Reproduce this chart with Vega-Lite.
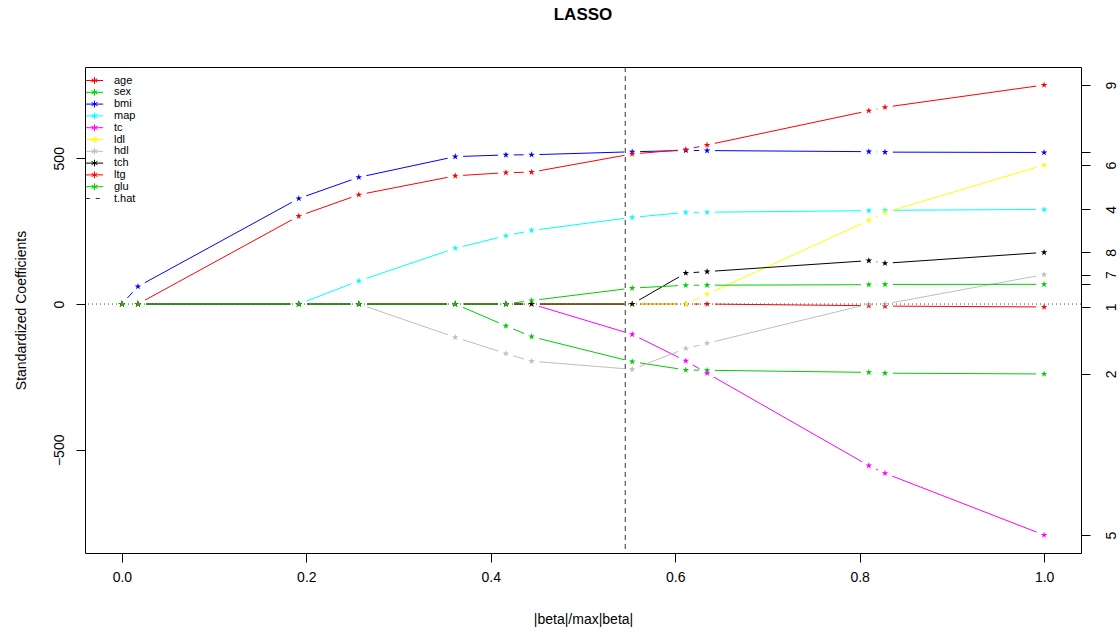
{
  "$schema": "https://vega.github.io/schema/vega-lite/v6.json",
  "autosize": {"type": "none"},
  "padding": {"left": 85, "top": 67, "right": 39, "bottom": 80},
  "width": 996,
  "height": 486,
  "title": {"text": "LASSO", "fontSize": 17, "fontWeight": "bold", "font": "Liberation Sans", "anchor": "middle", "frame": "group", "offset": 43, "color": "black"},
  "config": {
    "font": "Liberation Sans",
    "view": {"stroke": "black", "strokeWidth": 1},
    "axis": {"domain": false, "grid": false, "tickColor": "black", "tickSize": 9, "labelColor": "black", "titleColor": "black", "labelFont": "Liberation Sans", "titleFont": "Liberation Sans", "labelFontSize": 14, "titleFontSize": 14, "titleFontWeight": "normal", "labelOverlap": false, "labelFlush": false}
  },
  "data": {"values": [
    {"s": 0, "v": "age", "b": 0}, {"s": 0, "v": "sex", "b": 0}, {"s": 0, "v": "bmi", "b": 0}, {"s": 0, "v": "map", "b": 0}, {"s": 0, "v": "tc", "b": 0}, {"s": 0, "v": "ldl", "b": 0}, {"s": 0, "v": "hdl", "b": 0}, {"s": 0, "v": "tch", "b": 0}, {"s": 0, "v": "ltg", "b": 0}, {"s": 0, "v": "glu", "b": 0},
    {"s": 0.01738, "v": "age", "b": 0}, {"s": 0.01738, "v": "sex", "b": 0}, {"s": 0.01738, "v": "bmi", "b": 60.12}, {"s": 0.01738, "v": "map", "b": 0}, {"s": 0.01738, "v": "tc", "b": 0}, {"s": 0.01738, "v": "ldl", "b": 0}, {"s": 0.01738, "v": "hdl", "b": 0}, {"s": 0.01738, "v": "tch", "b": 0}, {"s": 0.01738, "v": "ltg", "b": 0}, {"s": 0.01738, "v": "glu", "b": 0},
    {"s": 0.19181, "v": "age", "b": 0}, {"s": 0.19181, "v": "sex", "b": 0}, {"s": 0.19181, "v": "bmi", "b": 361.89}, {"s": 0.19181, "v": "map", "b": 0}, {"s": 0.19181, "v": "tc", "b": 0}, {"s": 0.19181, "v": "ldl", "b": 0}, {"s": 0.19181, "v": "hdl", "b": 0}, {"s": 0.19181, "v": "tch", "b": 0}, {"s": 0.19181, "v": "ltg", "b": 301.78}, {"s": 0.19181, "v": "glu", "b": 0},
    {"s": 0.25691, "v": "age", "b": 0}, {"s": 0.25691, "v": "sex", "b": 0}, {"s": 0.25691, "v": "bmi", "b": 434.76}, {"s": 0.25691, "v": "map", "b": 79.24}, {"s": 0.25691, "v": "tc", "b": 0}, {"s": 0.25691, "v": "ldl", "b": 0}, {"s": 0.25691, "v": "hdl", "b": 0}, {"s": 0.25691, "v": "tch", "b": 0}, {"s": 0.25691, "v": "ltg", "b": 374.92}, {"s": 0.25691, "v": "glu", "b": 0},
    {"s": 0.36147, "v": "age", "b": 0}, {"s": 0.36147, "v": "sex", "b": 0}, {"s": 0.36147, "v": "bmi", "b": 505.66}, {"s": 0.36147, "v": "map", "b": 191.27}, {"s": 0.36147, "v": "tc", "b": 0}, {"s": 0.36147, "v": "ldl", "b": 0}, {"s": 0.36147, "v": "hdl", "b": -114.1}, {"s": 0.36147, "v": "tch", "b": 0}, {"s": 0.36147, "v": "ltg", "b": 439.66}, {"s": 0.36147, "v": "glu", "b": 0},
    {"s": 0.41642, "v": "age", "b": 0}, {"s": 0.41642, "v": "sex", "b": -74.92}, {"s": 0.41642, "v": "bmi", "b": 511.35}, {"s": 0.41642, "v": "map", "b": 234.15}, {"s": 0.41642, "v": "tc", "b": 0}, {"s": 0.41642, "v": "ldl", "b": 0}, {"s": 0.41642, "v": "hdl", "b": -169.71}, {"s": 0.41642, "v": "tch", "b": 0}, {"s": 0.41642, "v": "ltg", "b": 450.67}, {"s": 0.41642, "v": "glu", "b": 0},
    {"s": 0.44424, "v": "age", "b": 0}, {"s": 0.44424, "v": "sex", "b": -111.98}, {"s": 0.44424, "v": "bmi", "b": 512.04}, {"s": 0.44424, "v": "map", "b": 252.53}, {"s": 0.44424, "v": "tc", "b": 0}, {"s": 0.44424, "v": "ldl", "b": 0}, {"s": 0.44424, "v": "hdl", "b": -196.05}, {"s": 0.44424, "v": "tch", "b": 0}, {"s": 0.44424, "v": "ltg", "b": 452.39}, {"s": 0.44424, "v": "glu", "b": 12.08},
    {"s": 0.55334, "v": "age", "b": 0}, {"s": 0.55334, "v": "sex", "b": -197.76}, {"s": 0.55334, "v": "bmi", "b": 522.26}, {"s": 0.55334, "v": "map", "b": 297.16}, {"s": 0.55334, "v": "tc", "b": -103.95}, {"s": 0.55334, "v": "ldl", "b": 0}, {"s": 0.55334, "v": "hdl", "b": -223.93}, {"s": 0.55334, "v": "tch", "b": 0}, {"s": 0.55334, "v": "ltg", "b": 514.75}, {"s": 0.55334, "v": "glu", "b": 54.77},
    {"s": 0.61149, "v": "age", "b": 0}, {"s": 0.61149, "v": "sex", "b": -226.13}, {"s": 0.61149, "v": "bmi", "b": 526.89}, {"s": 0.61149, "v": "map", "b": 314.39}, {"s": 0.61149, "v": "tc", "b": -195.11}, {"s": 0.61149, "v": "ldl", "b": 0}, {"s": 0.61149, "v": "hdl", "b": -152.48}, {"s": 0.61149, "v": "tch", "b": 106.34}, {"s": 0.61149, "v": "ltg", "b": 529.92}, {"s": 0.61149, "v": "glu", "b": 64.49},
    {"s": 0.63455, "v": "age", "b": 0}, {"s": 0.63455, "v": "sex", "b": -227.18}, {"s": 0.63455, "v": "bmi", "b": 526.39}, {"s": 0.63455, "v": "map", "b": 314.95}, {"s": 0.63455, "v": "tc", "b": -237.34}, {"s": 0.63455, "v": "ldl", "b": 33.63}, {"s": 0.63455, "v": "hdl", "b": -134.6}, {"s": 0.63455, "v": "tch", "b": 111.38}, {"s": 0.63455, "v": "ltg", "b": 545.48}, {"s": 0.63455, "v": "glu", "b": 64.61},
    {"s": 0.80994, "v": "age", "b": -5.72}, {"s": 0.80994, "v": "sex", "b": -234.4}, {"s": 0.80994, "v": "bmi", "b": 522.65}, {"s": 0.80994, "v": "map", "b": 320.34}, {"s": 0.80994, "v": "tc", "b": -554.27}, {"s": 0.80994, "v": "ldl", "b": 286.74}, {"s": 0.80994, "v": "hdl", "b": 0}, {"s": 0.80994, "v": "tch", "b": 148.9}, {"s": 0.80994, "v": "ltg", "b": 663.03}, {"s": 0.80994, "v": "glu", "b": 66.33},
    {"s": 0.82746, "v": "age", "b": -7.01}, {"s": 0.82746, "v": "sex", "b": -237.1}, {"s": 0.82746, "v": "bmi", "b": 521.08}, {"s": 0.82746, "v": "map", "b": 321.55}, {"s": 0.82746, "v": "tc", "b": -580.44}, {"s": 0.82746, "v": "ldl", "b": 313.86}, {"s": 0.82746, "v": "hdl", "b": 0}, {"s": 0.82746, "v": "tch", "b": 139.86}, {"s": 0.82746, "v": "ltg", "b": 674.94}, {"s": 0.82746, "v": "glu", "b": 67.18},
    {"s": 1, "v": "age", "b": -10.01}, {"s": 1, "v": "sex", "b": -239.82}, {"s": 1, "v": "bmi", "b": 519.84}, {"s": 1, "v": "map", "b": 324.39}, {"s": 1, "v": "tc", "b": -792.18}, {"s": 1, "v": "ldl", "b": 476.75}, {"s": 1, "v": "hdl", "b": 101.04}, {"s": 1, "v": "tch", "b": 177.06}, {"s": 1, "v": "ltg", "b": 751.28}, {"s": 1, "v": "glu", "b": 67.63}
  ]},
  "layer": [
    {
      "mark": {"type": "line", "strokeWidth": 1},
      "encoding": {
        "x": {"field": "s", "type": "quantitative", "scale": {"domain": [-0.04, 1.04], "nice": false, "zero": false}, "axis": {"values": [0, 0.2, 0.4, 0.6, 0.8, 1], "format": ".1f", "title": "|beta|/max|beta|", "labelPadding": 8, "titlePadding": 28}},
        "y": {"field": "b", "type": "quantitative", "scale": {"domain": [-853.92, 813.02], "nice": false, "zero": false}, "axis": {"orient": "left", "values": [-500, 0, 500], "labelAngle": -90, "labelPadding": 10, "title": "Standardized Coefficients", "titlePadding": 24}},
        "color": {"field": "v", "type": "nominal",
          "scale": {"domain": ["age", "sex", "bmi", "map", "tc", "ldl", "hdl", "tch", "ltg", "glu", "t.hat"], "range": ["#FF0000", "#00CD00", "#0000FF", "#00FFFF", "#FF00FF", "#FFFF00", "#BEBEBE", "#000000", "#FF0000", "#00CD00", "#333333"]},
          "legend": {"title": null, "orient": "none", "legendX": 4, "legendY": 8, "padding": 0, "rowPadding": -0.2, "labelFont": "Liberation Sans", "labelFontSize": 11, "labelColor": "black", "symbolSize": 72, "symbolStrokeWidth": 1, "labelOffset": 14, "symbolType": "M-2.05,0L2.05,0M0,-0.8L0,0.8M-0.7,-0.4L0.7,0.4M-0.7,0.4L0.7,-0.4",
            "encode": {"symbols": {"update": {"shape": {"signal": "datum.value == 't.hat' ? 'M-2.05,0L-1.1,0M0.3,0L1.25,0' : 'M-2.05,0L2.05,0M0,-0.8L0,0.8M-0.7,-0.4L0.7,0.4M-0.7,0.4L0.7,-0.4'"}, "stroke": {"scale": "color", "field": "value"}, "fill": {"value": "transparent"}, "strokeWidth": {"value": 1}, "opacity": {"value": 1}}}}}
        }
      }
    },
    {
      "mark": {"type": "point", "shape": "circle", "filled": true, "color": "white", "opacity": 1, "size": 254},
      "encoding": {
        "x": {"field": "s", "type": "quantitative"},
        "y": {"field": "b", "type": "quantitative", "axis": {"orient": "right", "values": [751.2793, 519.8398, 476.7458, 324.3904, 177.0642, 101.0446, 67.6254, -10.0122, -239.8191, -792.1842], "labelAngle": -90, "labelPadding": 14, "title": null, "labelExpr": "datum.value > 700 ? '9' : datum.value > 500 ? '' : datum.value > 400 ? '6' : datum.value > 300 ? '4' : datum.value > 150 ? '8' : datum.value > 90 ? '7' : datum.value > 50 ? '' : datum.value > -100 ? '1' : datum.value > -500 ? '2' : '5'"}}
      }
    },
    {
      "mark": {"type": "point", "shape": "M0,-1L0.224,-0.308L0.951,-0.309L0.361,0.117L0.588,0.809L0,0.38L-0.588,0.809L-0.361,0.117L-0.951,-0.309L-0.224,-0.308Z", "filled": true, "opacity": 1, "size": 49},
      "encoding": {
        "x": {"field": "s", "type": "quantitative"},
        "y": {"field": "b", "type": "quantitative", "axis": null},
        "color": {"field": "v", "type": "nominal"}
      }
    },
    {
      "data": {"values": [{"h": 0}]},
      "mark": {"type": "rule", "strokeDash": [1, 3], "color": "#444444", "strokeWidth": 1},
      "encoding": {"y": {"field": "h", "type": "quantitative", "axis": null}}
    },
    {
      "data": {"values": [{"s": 0.5458, "v": "t.hat"}]},
      "mark": {"type": "rule", "strokeDash": [5, 4], "strokeWidth": 1},
      "encoding": {
        "x": {"field": "s", "type": "quantitative"},
        "color": {"field": "v", "type": "nominal"}
      }
    }
  ],
  "resolve": {"axis": {"y": "independent"}}
}
